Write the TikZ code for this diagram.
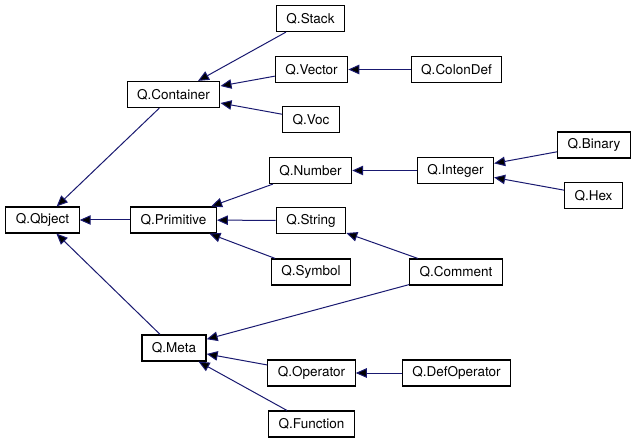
\documentclass[tikz,border=0pt]{standalone}
\usepackage{fontspec}
\setmainfont{TeX Gyre Heros}
\usetikzlibrary{arrows.meta}
\definecolor{edgeblue}{RGB}{25,25,112}

\begin{document}
\begin{tikzpicture}[x=1pt,y=-1pt,->,>={Triangle[length=11pt,width=9.5pt]},
            node distance=145pt,
            class node/.style={rectangle,draw=black,line width=1.2pt,
              font=\fontsize{13.5}{16}\selectfont,
              inner xsep=10pt,inner ysep=0pt,minimum height=26pt}]
        \useasboundingbox (0,0) rectangle (636,443);

        % Define classes
        \node[class node] (qbject) at (42.5,220) {Q.Qbject};
        \node[class node] (primitive) at (173.5,220) {Q.Primitive};
        \node[class node] (container) at (173.5,94.5) {Q.Container};
        \node[class node] (meta) at (174,348) {Q.Meta};

        \node[class node] (stack) at (310.5,18.5) {Q.Stack};
        \node[class node] (vector) at (311.5,69.5) {Q.Vector};
        \node[class node] (voc) at (311,119.5) {Q.Voc};
        \node[class node] (number) at (310.5,170.5) {Q.Number};
        \node[class node] (string) at (311,220.5) {Q.String};
        \node[class node] (symbol) at (311,272) {Q.Symbol};
        \node[class node] (operator) at (311.5,373) {Q.Operator};
        \node[class node] (function) at (311.5,424) {Q.Function};

        \node[class node] (colondef) [right of=vector] {Q.ColonDef};
        \node[class node] (integer) [right of=number] {Q.Integer};
        \node[class node] (comment) at (456,272) {Q.Comment};
        \node[class node] (defoperator) [right of=operator] {Q.DefOperator};

        \node[class node] (binary) at (594,145) {Q.Binary};
        \node[class node] (hex) at (593.5,195.5) {Q.Hex};

        % Draw inheritance edges
        \path[draw=edgeblue,line width=1pt]
            (container) edge (qbject)
            (primitive) edge (qbject)
            (meta) edge (qbject)
            (stack) edge (container)
            (vector) edge (container)
            (voc) edge (container)
            (colondef) edge (vector)
            (number) edge (primitive)
            (string) edge (primitive)
            (symbol) edge (primitive)
            (integer) edge (number)
            (binary) edge (integer)
            (hex) edge (integer)
            (comment) edge (string)
            (comment) edge (meta)
            (operator) edge (meta)
            (function) edge (meta)
            (defoperator) edge (operator);

        \end{tikzpicture}
\end{document}
